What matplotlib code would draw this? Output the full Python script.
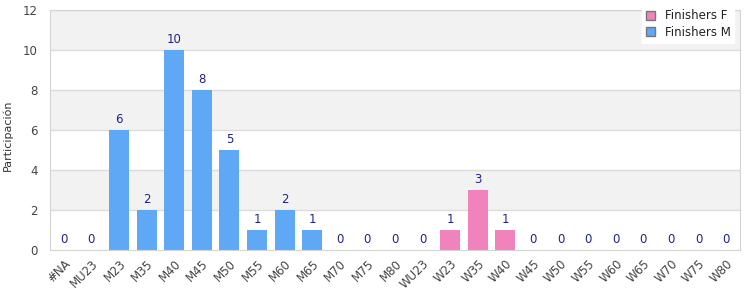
import numpy as np
import matplotlib
matplotlib.use("Agg")
import matplotlib.pyplot as plt
from matplotlib.patches import Patch

categories = ["#NA", "MU23", "M23", "M35", "M40", "M45", "M50", "M55", "M60", "M65",
              "M70", "M75", "M80", "WU23", "W23", "W35", "W40", "W45", "W50", "W55",
              "W60", "W65", "W70", "W75", "W80"]
finishers_m = [0, 0, 6, 2, 10, 8, 5, 1, 2, 1, 0, 0, 0, 0, 0, 0, 0, 0, 0, 0, 0, 0, 0, 0, 0]
finishers_f = [0, 0, 0, 0, 0, 0, 0, 0, 0, 0, 0, 0, 0, 0, 1, 3, 1, 0, 0, 0, 0, 0, 0, 0, 0]
ylabel = "Participación"

blue = "#5fa8f5"
pink = "#f183bc"
label_col = "#22228a"

fig = plt.figure(figsize=(7.5, 3), dpi=100)
ax = fig.add_axes([50 / 750, 50 / 300, 690 / 750, 240 / 300])

x = np.arange(len(categories))
# alternating bands: 2-4, 6-8, 10-12 gray
for lo in (2, 6, 10):
    ax.axhspan(lo, lo + 2, facecolor="#f2f2f2", zorder=0, lw=0)
for y in range(2, 13, 2):
    ax.axhline(y, color="#dcdcdc", lw=1, zorder=1)

ax.bar(x, finishers_m, width=0.72, color=blue, zorder=2)
ax.bar(x, finishers_f, width=0.72, bottom=finishers_m, color=pink, zorder=2)

totals = np.array(finishers_m) + np.array(finishers_f)
for xi, t in zip(x, totals):
    ax.text(xi, t + 0.22, str(t), ha="center", va="bottom", color=label_col, fontsize=8.5)

ax.set_xlim(-0.5, len(categories) - 0.5)
ax.set_ylim(0, 12)
ax.set_yticks(range(0, 13, 2))
ax.set_xticks(x)
ax.set_xticklabels(categories, rotation=45, ha="right", rotation_mode="anchor")
ax.tick_params(length=0, colors="#444444", labelsize=8.5)
ax.tick_params(axis="y", pad=9)
ax.tick_params(axis="x", pad=5)
for s in ax.spines.values():
    s.set_color("#d4d4d4")
fig.text(8 / 750, 0.55, ylabel, rotation=90, ha="center", va="center",
         fontsize=8, color="#333333")

handles = [Patch(facecolor=pink, edgecolor="#777777", label="Finishers F"),
           Patch(facecolor=blue, edgecolor="#777777", label="Finishers M")]
fig.legend(handles=handles, loc="upper right", bbox_to_anchor=(740 / 750, 1.0),
           fontsize=8.5, frameon=True, fancybox=False, framealpha=1, edgecolor="white",
           handlelength=0.8, handleheight=0.8, labelspacing=0.3, borderpad=0.3,
           handletextpad=0.8, labelcolor="#222222")

fig.savefig("out.png", dpi=100)
